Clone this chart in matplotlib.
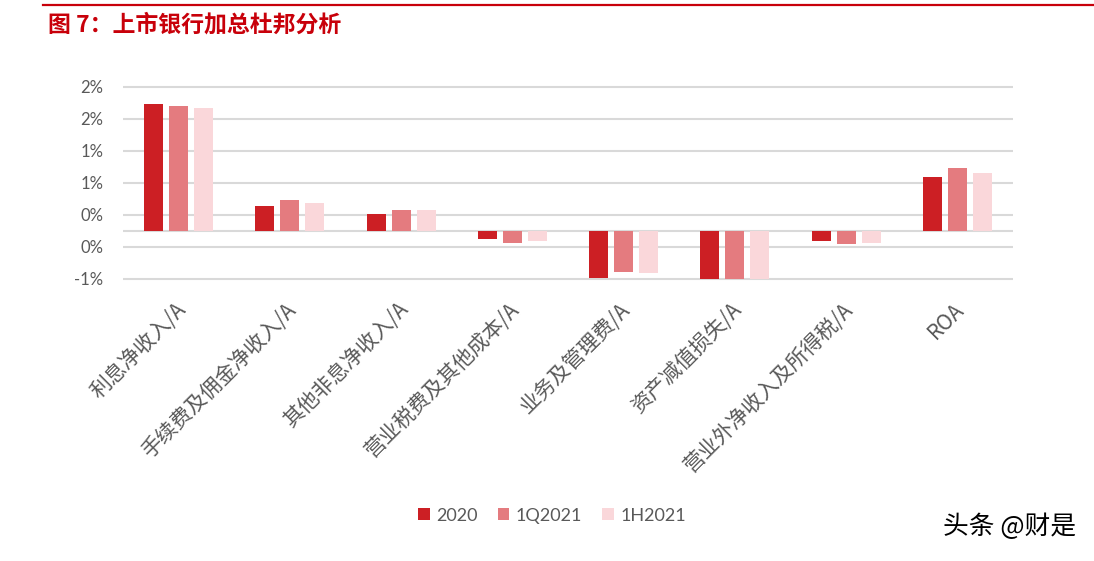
import matplotlib
matplotlib.use('Agg')
import matplotlib.pyplot as plt
import matplotlib.transforms as mtransforms
from matplotlib.patches import Patch
import numpy as np

# categories and values (% of average assets)
categories = ['利息净收入/A', '手续费及佣金净收入/A', '其他非息净收入/A', '营业税费及其他成本/A',
              '业务及管理费/A', '资产减值损失/A', '营业外净收入及所得税/A', 'ROA']
series_names = ['2020', '1Q2021', '1H2021']
v_2020 = [1.98, 0.39, 0.26, -0.135, -0.74, -0.76, -0.155, 0.84]
v_1q2021 = [1.95, 0.48, 0.33, -0.19, -0.65, -0.75, -0.21, 0.975]
v_1h2021 = [1.92, 0.43, 0.32, -0.155, -0.655, -0.76, -0.19, 0.90]
y_ticks = [-0.75, -0.25, 0.25, 0.75, 1.25, 1.75, 2.25]
y_tick_labels = ['-1%', '0%', '0%', '1%', '1%', '2%', '2%']

colors = ['#CC1F24', '#E47B7F', '#FAD7DA']
red = '#C8000A'
grey_txt = '#595959'
grid_c = '#D9D9D9'

fig = plt.figure(figsize=(10.94, 5.61), dpi=100)

# header: red rule and title
fig.add_artist(plt.Line2D([43 / 1094, 1.0], [1 - 4.7 / 561] * 2, color=red, lw=1.6))
fig.text(48 / 1094, 1 - 25.5 / 561, '图 7：上市银行加总杜邦分析', color=red,
         fontsize=16.5, fontweight='bold', family=['Noto Sans CJK SC', 'DejaVu Sans'],
         ha='left', va='center')

# plot area: 64 px per 1 %, zero line at y = 230.7 px
ymin, ymax = -0.8, 2.3
top_px = 230.7 - ymax * 64
bot_px = 230.7 - ymin * 64
ax = fig.add_axes([123 / 1094, 1 - bot_px / 561, 890 / 1094, (bot_px - top_px) / 561])

x = np.arange(len(categories))
width = 0.17
step = 0.225
for i, (vals, name) in enumerate(zip([v_2020, v_1q2021, v_1h2021], series_names)):
    ax.bar(x + (i - 1) * step, vals, width, color=colors[i], label=name, zorder=3)

ax.set_xlim(-0.5, len(categories) - 0.5)
ax.set_ylim(ymin, ymax)
for yt in y_ticks:
    ax.axhline(yt, color=grid_c, lw=1.5, zorder=1)
ax.axhline(0, color=grid_c, lw=1.5, zorder=2)

for s in ax.spines.values():
    s.set_visible(False)

ax.set_yticks(y_ticks)
ax.set_yticklabels(y_tick_labels, fontsize=12, color=grey_txt, family=['Lato', 'DejaVu Sans'])
ax.tick_params(axis='y', length=0, pad=14)

ax.set_xticks(x)
ax.set_xticklabels(categories, rotation=45, ha='right', rotation_mode='anchor',
                   fontsize=15, color=grey_txt, family=['Noto Sans CJK SC', 'DejaVu Sans'])
ax.tick_params(axis='x', length=0, pad=12)
offset = mtransforms.ScaledTranslation(-4 / 100, 0, fig.dpi_scale_trans)
for lab in ax.get_xticklabels():
    lab.set_transform(lab.get_transform() + offset)

# legend
handles = [Patch(facecolor=c, edgecolor='none') for c in colors]
fig.legend(handles, series_names, loc='center', bbox_to_anchor=(552 / 1094, 1 - 515.7 / 561),
           ncol=3, frameon=False, handlelength=0.65, handleheight=0.65, handletextpad=0.35,
           columnspacing=1.1, prop={'family': ['Lato', 'DejaVu Sans'], 'size': 13},
           labelcolor=grey_txt)

# watermark
fig.text(1076 / 1094, 1 - 527 / 561, '头条 @财是', color='black', fontsize=18.5,
         family=['Noto Sans CJK SC', 'DejaVu Sans'], ha='right', va='center')

fig.savefig('out.png', dpi=100)
